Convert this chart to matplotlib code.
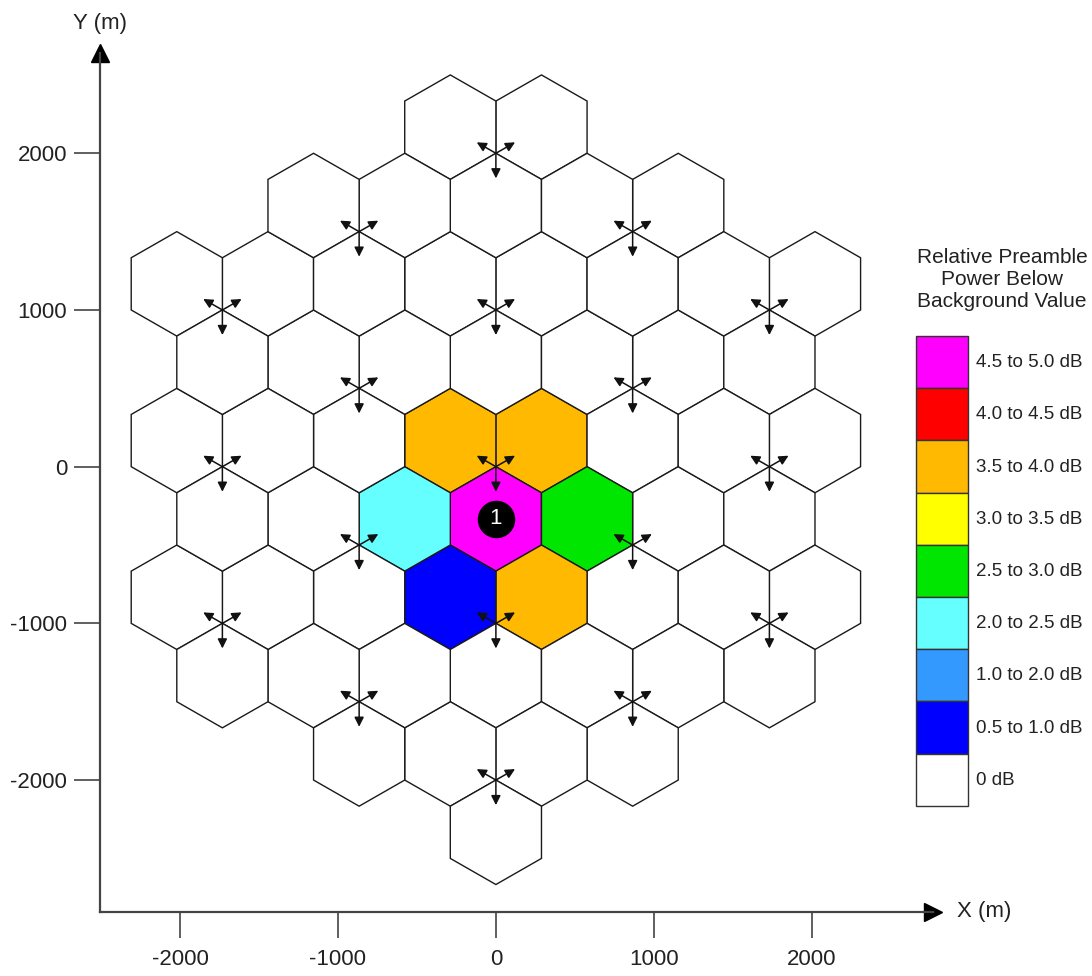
import numpy as np
import matplotlib.pyplot as plt
from matplotlib.patches import RegularPolygon, Patch

plt.rcParams['font.family'] = ['Liberation Sans', 'DejaVu Sans']
plt.rcParams['axes.unicode_minus'] = False

# Sites (m), 19-site layout, inter-site distance 1000 m
site_x = [0, 0, 866, 866, 0, -866, -866,
          0, 866, 1732, 1732, 1732, 866, 0, -866, -1732, -1732, -1732, -866]
site_y = [0, 1000, 500, -500, -1000, -500, 500,
          2000, 1500, 1000, 0, -1000, -1500, -2000, -1500, -1000, 0, 1000, 1500]
sector_az = [30, 150, 270]
arrow_len = [140, 140, 160]
cell_radius = 1000 / 3

legend_labels = ['4.5 to 5.0 dB', '4.0 to 4.5 dB', '3.5 to 4.0 dB', '3.0 to 3.5 dB',
                 '2.5 to 3.0 dB', '2.0 to 2.5 dB', '1.0 to 2.0 dB', '0.5 to 1.0 dB', '0 dB']
legend_colors = ['#FF00FF', '#FF0000', '#FFB900', '#FFFF00',
                 '#00E600', '#66FFFF', '#3399FF', '#0000FF', '#FFFFFF']

# cells with a level above 0 dB: site index, sector azimuth, level
hot_site = [0, 0, 0, 4, 4, 5, 3]
hot_az = [270, 30, 150, 30, 150, 30, 150]
hot_level = ['4.5 to 5.0 dB', '3.5 to 4.0 dB', '3.5 to 4.0 dB', '3.5 to 4.0 dB',
             '0.5 to 1.0 dB', '2.0 to 2.5 dB', '2.5 to 3.0 dB']

# marked cell (black dot with number)
mark_site = 0
mark_az = 270
mark_text = '1'

level_color = dict(zip(legend_labels, legend_colors))
hot = {(s, a): lv for s, a, lv in zip(hot_site, hot_az, hot_level)}

fig = plt.figure(figsize=(10.92, 9.76), dpi=100)
ax = fig.add_axes([100 / 1092, 64 / 976, 833 / 1092, 859 / 976])
ax.set_xlim(-2507, 2768)
ax.set_ylim(-2842, 2640)

# hexagonal sector cells
for i, (sx, sy) in enumerate(zip(site_x, site_y)):
    for az in sector_az:
        cx = sx + cell_radius * np.cos(np.radians(az))
        cy = sy + cell_radius * np.sin(np.radians(az))
        fc = level_color[hot.get((i, az), '0 dB')]
        ax.add_patch(RegularPolygon((cx, cy), numVertices=6, radius=cell_radius,
                                    orientation=0, facecolor=fc,
                                    edgecolor='#1a1a1a', linewidth=1.0, zorder=1))

# antenna arrows at every site
for sx, sy in zip(site_x, site_y):
    for az, L in zip(sector_az, arrow_len):
        tx = sx + L * np.cos(np.radians(az))
        ty = sy + L * np.sin(np.radians(az))
        ax.annotate('', xy=(tx, ty), xytext=(sx, sy),
                    arrowprops=dict(arrowstyle='-|>', color='#111111', lw=1.1,
                                    mutation_scale=14, shrinkA=0, shrinkB=0),
                    zorder=3)

# marked cell
mx = site_x[mark_site] + cell_radius * np.cos(np.radians(mark_az))
my = site_y[mark_site] + cell_radius * np.sin(np.radians(mark_az))
ax.plot(mx, my, 'o', ms=26, color='black', zorder=4)
ax.text(mx, my, mark_text, color='white', fontsize=16, ha='center', va='center', zorder=5)

# axes styling
for s in ['top', 'right']:
    ax.spines[s].set_visible(False)
for s in ['left', 'bottom']:
    ax.spines[s].set_color('#444444')
    ax.spines[s].set_linewidth(1.6)
ax.set_xticks([-2000, -1000, 0, 1000, 2000])
ax.set_yticks([-2000, -1000, 0, 1000, 2000])
ax.tick_params(direction='out', length=18.5, width=1.2, color='#444444',
               labelsize=16, labelcolor='#222222')
ax.tick_params(axis='x', pad=8)
ax.tick_params(axis='y', pad=5)
ax.plot(1, 0, '>', transform=ax.transAxes, clip_on=False, ms=13, color='black')
ax.plot(0, 1, '^', transform=ax.transAxes, clip_on=False, ms=13, color='black')

fig.text(957 / 1092, 1 - 912 / 976, 'X (m)', fontsize=16, ha='left', va='center', color='#222222')
fig.text(100 / 1092, 1 - 23 / 976, 'Y (m)', fontsize=16, ha='center', va='center', color='#222222')

# legend
fig.text(1002 / 1092, 1 - 248 / 976, 'Relative Preamble\nPower Below\nBackground Value',
         fontsize=15, ha='center', va='top', multialignment='center', color='#222222')
fs = 13.5
fs_px = fs * 100 / 72
box_h = 52.2 / fs_px
handles = [Patch(facecolor=c, edgecolor='#333333', linewidth=1.0, label=l)
           for l, c in zip(legend_labels, legend_colors)]
fig.legend(handles=handles, loc='upper left',
           bbox_to_anchor=(916 / 1092, 1 - 336 / 976), bbox_transform=fig.transFigure,
           frameon=False, borderpad=0, borderaxespad=0, fontsize=fs,
           handlelength=52 / fs_px, handleheight=(box_h - 0.245) / 0.65,
           labelspacing=0, handletextpad=0.4, labelcolor='#222222')

fig.savefig('out.png', dpi=100)
